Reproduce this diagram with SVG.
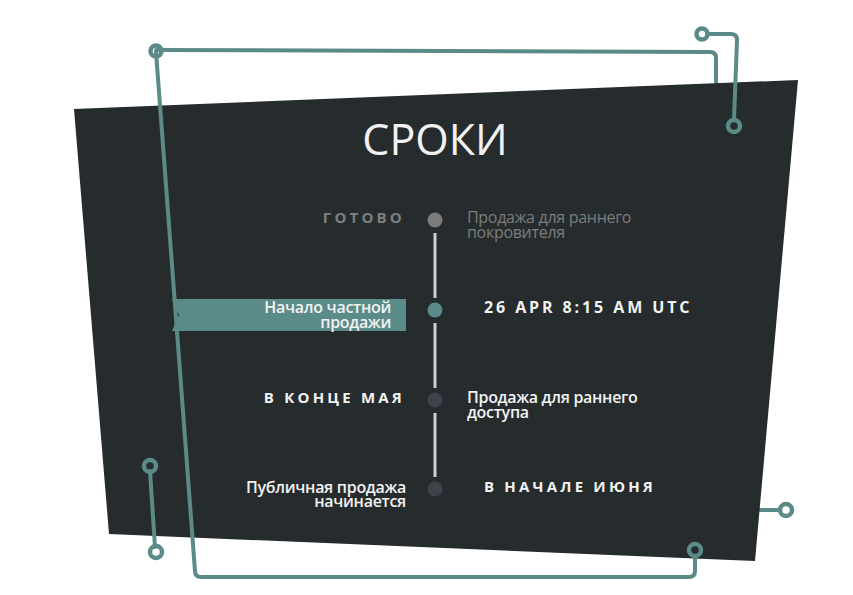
<svg xmlns="http://www.w3.org/2000/svg" width="853" height="595" viewBox="0 0 853 595">
<style>
.wire{fill:none;stroke:#5b8b88;stroke-width:4;stroke-linecap:round;stroke-linejoin:round}
.ring{fill:none;stroke:#5b8b88;stroke-width:4.5}
.t{font-family:"Open Sans","Liberation Sans",sans-serif}
.body{font-size:16px;font-weight:600;fill:#f2f2f2;letter-spacing:-0.3px}
.cap{font-size:16px;font-weight:700;fill:#f2f2f2;letter-spacing:2.9px}
.tl{stroke:#cfcfcf;stroke-width:3;stroke-linecap:butt}
</style>
<rect width="853" height="595" fill="#ffffff"/>
<g id="connectors">
<path class="wire" d="M156,50 L710,52 Q716,52 716,58 L716,86"/>
<path class="wire" d="M740,510 L780,510"/>
</g>
<g id="panel">
<polygon points="74,109 798,80 755,561 109,534" fill="#262c2e"/>
</g>
<g id="frame">
<path class="wire" d="M156,52 L195,571 Q195,577 201,577 L689,577 Q695,577 695,571 L695,556"/>
<path class="wire" d="M707,34 L731,34 Q737,34 737,40 L734,120"/>
<path class="wire" d="M150,471 L155,547"/>
<circle class="ring" cx="156" cy="51" r="5.5" fill="#ffffff"/>
<circle class="ring" cx="702" cy="34" r="5.5"/>
<circle class="ring" cx="734" cy="126" r="6"/>
<circle class="ring" cx="150" cy="466" r="6"/>
<circle class="ring" cx="156" cy="552" r="6"/>
<circle class="ring" cx="786" cy="510" r="6"/>
<circle class="ring" cx="695" cy="550" r="6"/>
</g>
<g id="title"><text class="t" x="435" y="155" text-anchor="middle" font-size="43" fill="#f2f2f2">СРОКИ</text></g>
<g id="timeline">
<line class="tl" x1="435" y1="233" x2="435" y2="298"/>
<line class="tl" x1="435" y1="323" x2="435" y2="388"/>
<line class="tl" x1="435" y1="413" x2="435" y2="477"/>
</g>
<g id="step1">
<text class="t cap" x="405" y="223" text-anchor="end" style="fill:#7e7e7e;font-size:15px;letter-spacing:3.2px">ГОТОВО</text>
<circle cx="435" cy="220" r="7.5" fill="#7b7b7b"/>
<text class="t body" x="467" y="223" style="fill:#7d7d7d;font-weight:500">Продажа для раннего</text>
<text class="t body" x="467" y="238" style="fill:#7d7d7d;font-weight:500">покровителя</text>
</g>
<g id="step2">
<polygon points="172,299 406,299 406,331 172,331 179,315" fill="#5b8b88"/>
<text class="t body" x="391" y="313" text-anchor="end">Начало частной</text>
<text class="t body" x="391" y="328" text-anchor="end">продажи</text>
<circle cx="435" cy="310" r="7.5" fill="#5b8b88"/>
<text class="t cap" x="484" y="313">26 APR 8:15 AM UTC</text>
</g>
<g id="step3">
<text class="t cap" x="405" y="403" text-anchor="end" style="font-size:15px;letter-spacing:3.2px">В КОНЦЕ МАЯ</text>
<circle cx="435" cy="400" r="7.5" fill="#3d424b"/>
<text class="t body" x="467" y="403">Продажа для раннего</text>
<text class="t body" x="467" y="418">доступа</text>
</g>
<g id="step4">
<text class="t body" x="406" y="493" text-anchor="end">Публичная продажа</text>
<text class="t body" x="406" y="507" text-anchor="end">начинается</text>
<circle cx="435" cy="489" r="7.5" fill="#3d424b"/>
<text class="t cap" x="484" y="492" style="font-size:15px;letter-spacing:3.2px">В НАЧАЛЕ ИЮНЯ</text>
</g>
</svg>
